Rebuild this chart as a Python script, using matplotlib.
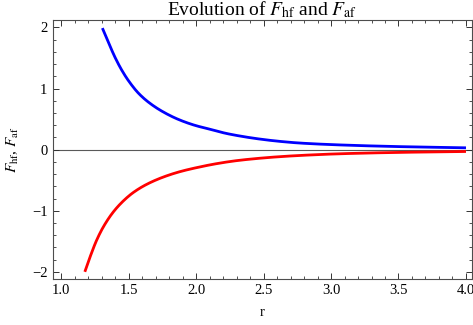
import numpy as np
import matplotlib
matplotlib.use("Agg")
import matplotlib.pyplot as plt
from matplotlib.ticker import MultipleLocator

plt.rcParams['font.family'] = ['Liberation Serif', 'DejaVu Serif']
plt.rcParams['mathtext.fontset'] = 'stix'

# values
r_hf = [1.306, 1.350, 1.400, 1.450, 1.499, 1.573, 1.647, 1.746, 1.869, 1.993, 2.116,
        2.215, 2.32, 2.45, 2.60, 2.77, 3.07, 3.5, 4.0]
F_hf = [1.99, 1.76, 1.51, 1.30, 1.13, 0.925, 0.778, 0.631, 0.495, 0.397, 0.327,
        0.27, 0.225, 0.18, 0.14, 0.108, 0.077, 0.05, 0.03]

r_af = [1.176, 1.215, 1.264, 1.313, 1.387, 1.461, 1.536, 1.635, 1.758, 1.881, 2.005,
        2.153, 2.30, 2.45, 2.60, 2.77, 3.07, 3.5, 4.0]
F_af = [-2.0, -1.755, -1.48, -1.265, -1.02, -0.84, -0.70, -0.567, -0.448, -0.36, -0.294,
        -0.229, -0.18, -0.145, -0.118, -0.095, -0.067, -0.045, -0.03]

xticks = [1.0, 1.5, 2.0, 2.5, 3.0, 3.5, 4.0]
yticks = [-2, -1, 0, 1, 2]


def pchip(x, y, n=400):
    # monotone cubic through the read points (Fritsch-Carlson)
    x = np.asarray(x, float)
    y = np.asarray(y, float)
    h = np.diff(x)
    d = np.diff(y) / h
    m = np.zeros_like(y)
    m[0], m[-1] = d[0], d[-1]
    for i in range(1, len(x) - 1):
        if d[i - 1] * d[i] > 0:
            w1 = 2 * h[i] + h[i - 1]
            w2 = h[i] + 2 * h[i - 1]
            m[i] = (w1 + w2) / (w1 / d[i - 1] + w2 / d[i])
    xs = np.linspace(x[0], x[-1], n)
    k = np.clip(np.searchsorted(x, xs) - 1, 0, len(x) - 2)
    t = (xs - x[k]) / h[k]
    h00 = 2 * t**3 - 3 * t**2 + 1
    h10 = t**3 - 2 * t**2 + t
    h01 = -2 * t**3 + 3 * t**2
    h11 = t**3 - t**2
    ys = h00 * y[k] + h10 * h[k] * m[k] + h01 * y[k + 1] + h11 * h[k] * m[k + 1]
    return xs, ys


fig = plt.figure(figsize=(4.73, 3.25), dpi=100)
ax = fig.add_axes([0.112, 0.142, 0.886, 0.796])

ax.axhline(0, color='0.35', lw=0.8, zorder=1)
ax.plot(*pchip(r_hf, F_hf), color=(0, 0, 1), lw=2.0, solid_capstyle='butt')
ax.plot(*pchip(r_af, F_af), color=(1, 0, 0), lw=2.0, solid_capstyle='butt')

ax.set_xlim(0.94, 4.045)
ax.set_ylim(-2.115, 2.12)
ax.set_xticks(xticks)
ax.set_xticklabels(['%.1f' % t for t in xticks])
ax.set_yticks(yticks)
ax.set_yticklabels([str(t).replace('-', '\u2212') for t in yticks])
ax.xaxis.set_minor_locator(MultipleLocator(0.1))
ax.yaxis.set_minor_locator(MultipleLocator(0.2))
ax.tick_params(which='both', direction='in', top=True, right=True, labelsize=10.5,
               colors='0.2', labelcolor='black')
ax.tick_params(which='major', length=4, width=0.7, pad=4)
ax.tick_params(which='minor', length=2.2, width=0.6)
for s in ax.spines.values():
    s.set_color('0.3')
    s.set_linewidth(0.8)

ax.set_title(r'Evolution of $F_{\rm hf}$ and $F_{\rm af}$', fontsize=14, pad=1)
ax.set_xlabel('r', fontsize=10.5, labelpad=6)
ax.set_ylabel(r'$F_{\rm hf}$, $F_{\rm af}$', fontsize=11, labelpad=8)

fig.savefig('out.png', dpi=100)
